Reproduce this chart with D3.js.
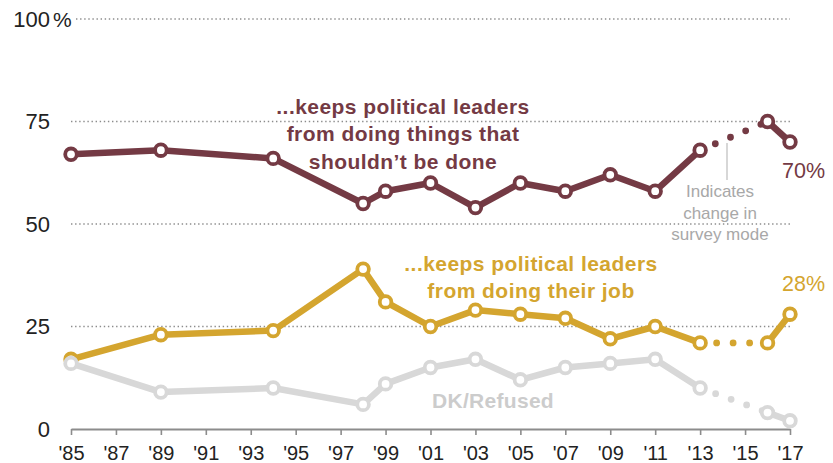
<!DOCTYPE html>
<html>
<head>
<meta charset="utf-8">
<script src="https://cdn.jsdelivr.net/npm/d3@7"></script>
<style>
  html, body { margin: 0; padding: 0; background: #fff; }
  svg { display: block; }
  text { font-family: "Liberation Sans", Arial, sans-serif; }
</style>
</head>
<body>
<svg id="chart" width="833" height="463"></svg>
<script>
// ---- Data ----
const years = [1985, 1989, 1994, 1998, 1999, 2001, 2003, 2005, 2007, 2009, 2011, 2013, 2016, 2017];
const keepsFromThingsShouldnt = [67, 68, 66, 55, 58, 60, 54, 60, 58, 62, 58, 68, 75, 70];
const keepsFromJob = [17, 23, 24, 39, 31, 25, 29, 28, 27, 22, 25, 21, 21, 28];
const dkRefused = [16, 9, 10, 6, 11, 15, 17, 12, 15, 16, 17, 10, 4, 2];
const modeChangeFrom = 2013; // survey mode change between 2013 and 2016
const modeChangeTo = 2016;
const xTickValues = d3.range(1985, 2018, 2);
const yTickValues = [0, 25, 50, 75, 100];

const colors = { maroon: "#743a44", gold: "#d4a52f", gray: "#d8d8d8" };

const svg = d3.select("#chart");
const x = d3.scaleLinear().domain([1985, 2017]).range([71, 790]);
const y = d3.scaleLinear().domain([0, 100]).range([429, 19]);

// ---- Gridlines ----
svg.append("g").selectAll("line")
  .data(yTickValues.filter(v => v > 0))
  .join("line")
  .attr("x1", d => d === 100 ? 76 : x(1985))
  .attr("x2", x(2017))
  .attr("y1", d => y(d)).attr("y2", d => y(d))
  .attr("stroke", "#8c8c8c")
  .attr("stroke-width", 1.6)
  .attr("stroke-dasharray", "1.4,2.7");

// ---- Y labels ----
const yl = svg.append("g");
yl.selectAll("text")
  .data(yTickValues)
  .join("text")
  .attr("x", 50)
  .attr("y", d => y(d))
  .attr("dy", "0.36em")
  .attr("text-anchor", "end")
  .attr("font-size", 22)
  .attr("fill", "#222")
  .text(d => d);
yl.append("text")
  .attr("x", 53).attr("y", y(100)).attr("dy", "0.36em")
  .attr("font-size", 21).attr("fill", "#222").text("%");

// ---- X axis ----
const xAxis = d3.axisBottom(x)
  .tickValues(xTickValues)
  .tickSize(6)
  .tickSizeOuter(0)
  .tickFormat(d => "'" + String(d).slice(2));
const gx = svg.append("g").attr("transform", `translate(0,${y(0)})`).call(xAxis);
gx.select(".domain").attr("stroke", "#8c8c8c").attr("stroke-width", 2.2);
gx.selectAll(".tick line").attr("stroke", "#8c8c8c").attr("stroke-width", 1.6);
gx.selectAll(".tick text")
  .attr("y", 31).attr("dy", 0)
  .attr("font-size", 20)
  .attr("font-family", "Liberation Sans, Arial, sans-serif")
  .attr("fill", "#222");

// ---- Series ----
function drawSeries(values, color) {
  const pts = years.map((yr, i) => ({ yr, v: values[i] }));
  const line = d3.line().x(d => x(d.yr)).y(d => y(d.v));
  const g = svg.append("g");
  const before = pts.filter(d => d.yr <= modeChangeFrom);
  const gap = pts.filter(d => d.yr === modeChangeFrom || d.yr === modeChangeTo);
  const after = pts.filter(d => d.yr >= modeChangeTo);
  [before, after].forEach(seg => {
    g.append("path").attr("d", line(seg))
      .attr("fill", "none").attr("stroke", color)
      .attr("stroke-width", 6.5).attr("stroke-linejoin", "round");
  });
  g.append("path").attr("d", line(gap))
    .attr("fill", "none").attr("stroke", color)
    .attr("stroke-width", 6.8).attr("stroke-linecap", "round")
    .attr("stroke-dasharray", "0,16.5");
  g.selectAll("circle").data(pts).join("circle")
    .attr("cx", d => x(d.yr)).attr("cy", d => y(d.v))
    .attr("r", 5.8)
    .attr("fill", "#fff").attr("stroke", color).attr("stroke-width", 3.8);
}
drawSeries(keepsFromJob, colors.gold);
drawSeries(dkRefused, colors.gray);
drawSeries(keepsFromThingsShouldnt, colors.maroon);

// ---- Annotations ----
function multiline(lines, cx, y0, lh, opts) {
  const t = svg.append("text")
    .attr("text-anchor", "middle")
    .attr("font-size", opts.size)
    .attr("font-weight", opts.weight || "normal")
    .attr("fill", opts.color)
    .attr("letter-spacing", opts.ls || 0);
  lines.forEach((s, i) => {
    t.append("tspan").attr("x", cx).attr("y", y0 + i * lh).text(s);
  });
}
multiline(["...keeps political leaders", "from doing things that", "shouldn\u2019t be done"],
  403, 114, 27.3, { size: 21, weight: "bold", color: colors.maroon, ls: 0.45 });
multiline(["...keeps political leaders", "from doing their job"],
  531, 271, 27.3, { size: 21, weight: "bold", color: colors.gold, ls: 0.45 });
multiline(["DK/Refused"], 493, 408, 0, { size: 21, weight: "bold", color: "#cccccc", ls: 0.3 });
multiline(["Indicates", "change in", "survey mode"], 720, 197, 21.5, { size: 17, color: "#a8a8a8" });

svg.append("line")
  .attr("x1", 727).attr("x2", 727).attr("y1", 143).attr("y2", 180)
  .attr("stroke", "#bdbdbd").attr("stroke-width", 1.2);

svg.append("text").attr("x", 782).attr("y", y(70) + 36)
  .attr("font-size", 21.5).attr("fill", colors.maroon)
  .text(keepsFromThingsShouldnt[keepsFromThingsShouldnt.length - 1] + "%");
svg.append("text").attr("x", 782).attr("y", y(28) - 23)
  .attr("font-size", 21.5).attr("fill", colors.gold)
  .text(keepsFromJob[keepsFromJob.length - 1] + "%");
</script>
</body>
</html>
